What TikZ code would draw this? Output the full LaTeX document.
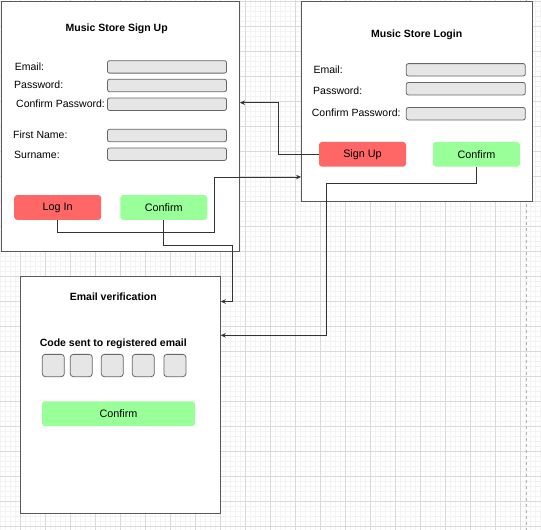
\documentclass[tikz,border=0pt]{standalone}
\usepackage{fontspec}
\setmainfont{Liberation Sans}
\usepackage{tikz}
\usetikzlibrary{
  positioning
  , calc
  % for connector ends
  , arrows.meta
  % ------
}

\definecolor{fieldgray}{HTML}{E6E6E6}
\definecolor{btnred}{HTML}{FF6666}
\definecolor{btngreen}{HTML}{99FF99}
\definecolor{gridmajor}{HTML}{DADADA}
\definecolor{gridminor}{HTML}{F3F3F3}

\tikzset{
  frame/.style={draw=black!65, fill=white, line width=0.9pt, inner sep=0pt},
  field/.style={draw=black!60, fill=fieldgray, rounded corners=2pt,
    line width=0.8pt, minimum width=119pt, minimum height=12.4pt, inner sep=0pt},
  codebox/.style={field, minimum width=22pt, minimum height=22.3pt, rounded corners=3pt},
  label/.style={anchor=west, inner sep=0pt, font=\fontsize{10.5}{12}\selectfont},
  title/.style={inner sep=0pt, font=\fontsize{10.5}{12}\selectfont\bfseries},
  button/.style={rounded corners=3pt, minimum width=87pt, minimum height=24.8pt,
    inner sep=0pt, font=\fontsize{10.8}{12}\selectfont},
  link/.style={draw=black!80, line width=0.8pt,
    -{Stealth[length=5pt, width=4.5pt]}},
}

\begin{document}
\begin{tikzpicture}[x=1pt, y=-1pt]
      \useasboundingbox (0,0) rectangle (541,530);

      % background grid
      \foreach \i in {0,...,108} {
        \draw[gridminor, line width=0.5pt] (0.7+5*\i,0) -- (0.7+5*\i,530);
      }
      \foreach \i in {0,...,105} {
        \draw[gridminor, line width=0.5pt] (0,1.7+5*\i) -- (541,1.7+5*\i);
      }
      \foreach \i in {0,...,21} {
        \draw[gridmajor, line width=0.6pt] (20.7+25*\i,0) -- (20.7+25*\i,530);
      }
      \foreach \i in {0,...,21} {
        \draw[gridmajor, line width=0.6pt] (0,1.7+25*\i) -- (541,1.7+25*\i);
      }
      \draw[black!30, dashed, line width=0.6pt] (526.5,0) -- (526.5,530);

      % sign up page
      \node [frame, minimum width=238.5pt, minimum height=250pt] (signup) at (120.25,126) {};
      \node [title] (signupTitle) at (116.7,29.3) {Music Store Sign Up};
      \node [label] (lblEmail) at (14.7,66.3) {Email:};
      \node [label] (lblPass) at (14,85) {Password:};
      \node [label] (lblConfirm) at (16,104) {Confirm Password:};
      \node [label] (lblFirst) at (13,135) {First Name:};
      \node [label] (lblSurname) at (14,155) {Surname:};
      \node [field] (fEmail) at (167,66.9) {};
      \node [field] (fPass) at (167,85.5) {};
      \node [field] (fConfirm) at (167,104.2) {};
      \node [field] (fFirst) at (167,135.5) {};
      \node [field] (fSurname) at (167,154.2) {};
      \node [button, fill=btnred] (btnLogIn) at (57.7,207.5) {Log In};
      \node [button, fill=btngreen] (btnSignConfirm) at (163.8,207.5) {Confirm};

      % login page
      \node [frame, minimum width=230.8pt, minimum height=199.7pt] (login) at (416.9,101.35) {};
      \node [title] (loginTitle) at (416.7,35) {Music Store Login};
      \node [label] (lblLogEmail) at (313.3,69.7) {Email:};
      \node [label] (lblLogPass) at (313,90.7) {Password:};
      \node [label] (lblLogConfirm) at (311.7,113) {Confirm Password:};
      \node [field] (fLogEmail) at (465.8,69.8) {};
      \node [field] (fLogPass) at (465.8,88.7) {};
      \node [field] (fLogConfirm) at (465.8,113.7) {};
      \node [button, fill=btnred] (btnSignUp) at (362.5,154.3) {Sign Up};
      \node [button, fill=btngreen] (btnLoginConfirm) at (476.5,154.3) {Confirm};

      % email verification page
      \node [frame, minimum width=200pt, minimum height=236.7pt] (verify) at (120.3,394.65) {};
      \node [title] (verifyTitle) at (113.3,297) {Email verification};
      \node [title] (codeText) at (113.3,344) {Code sent to registered email};
      \foreach \cx [count=\n] in {53.3, 81.3, 112.3, 143.3, 174.9} {
        \node [codebox] (code\n) at (\cx,365.5) {};
      }
      \node [button, fill=btngreen, minimum width=153pt] (btnVerify) at (118.5,413.7) {Confirm};

      % connector ends
      \coordinate (inSignup) at (signup.east |- 0,102.7);
      \coordinate (inLogin) at (login.west |- 0,177);
      \coordinate (inVerifyA) at (verify.east |- 0,301.5);
      \coordinate (inVerifyB) at (verify.east |- 0,335.3);

      \draw [link] (btnSignUp.west) -- ++(-40,0) |- (inSignup);
      \draw [link] (btnLogIn.south) -- ++(0,12.3) -| (214.3,177) -- (inLogin);
      \draw [link] (btnSignConfirm.south) -- ++(0,25.3) -| (232.3,301.5) -- (inVerifyA);
      \draw [link] (btnLoginConfirm.south) -- ++(0,16) -| (326.7,335.3) -- (inVerifyB);
    \end{tikzpicture}
\end{document}
